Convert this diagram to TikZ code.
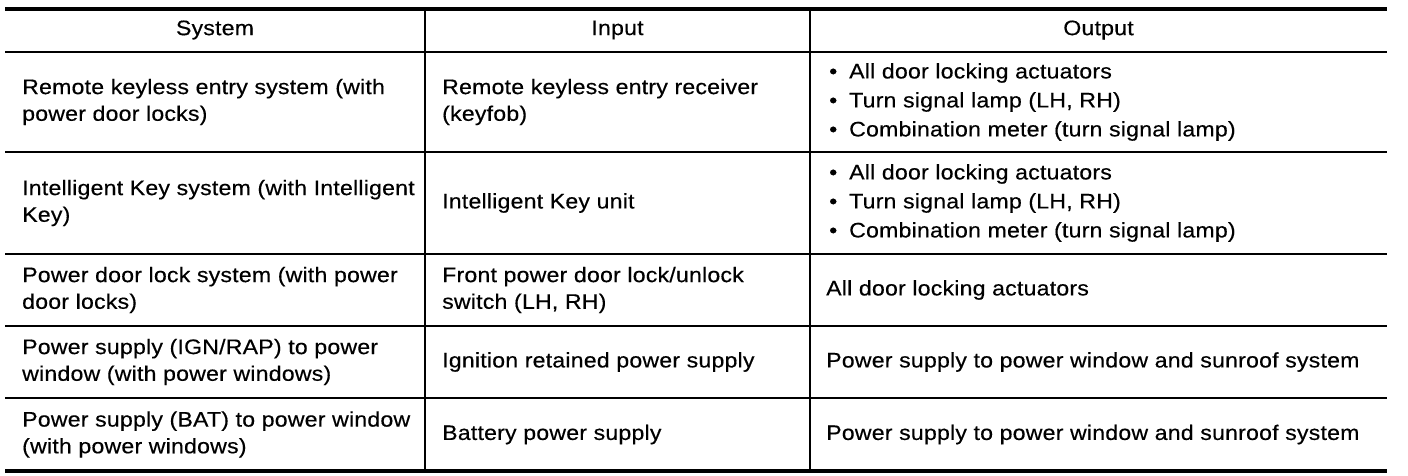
\documentclass[tikz,border=0pt]{standalone}
\usepackage{fontspec}
\newfontfamily\tabfont{Liberation Sans}[FakeStretch=1.1,LetterSpace=1,FakeBold=0.4]
\newcommand{\mybullet}{\makebox[23pt][l]{\hspace{3pt}\textbullet}}
\tikzset{
  cell/.style={anchor=west, align=left, inner sep=0pt, font=\tabfont\fontsize{21}{26.7}\selectfont},
  bcell/.style={anchor=west, align=left, inner sep=0pt, font=\tabfont\fontsize{21}{29}\selectfont},
  head/.style={anchor=center, inner sep=0pt, font=\tabfont\fontsize{21}{26.7}\selectfont},
  thickrule/.style={line width=4pt},
  midrule/.style={line width=2pt},
  rowrule/.style={line width=1.5pt},
  colrule/.style={line width=2pt}
}
\begin{document}
\begin{tikzpicture}[x=1pt,y=-1pt]
\useasboundingbox (0,0) rectangle (1408,476);
% rules
\draw[thickrule] (5,9) -- (1387,9);
\draw[midrule] (5,52) -- (1387,52);
\foreach \yy in {152,254,326,398} \draw[rowrule] (5,\yy) -- (1387,\yy);
\draw[thickrule] (5,471) -- (1387,471);
\draw[colrule] (425,9) -- (425,471);
\draw[colrule] (810,9) -- (810,471);
% header
\node[head] (hs) at (215,30) {System};
\node[head] (hi) at (617.5,30) {Input};
\node[head] (ho) at (1098.5,30) {Output};
% row 1
\node[cell] (s1) at (22,102) {Remote keyless entry system (with\\power door locks)};
\node[cell] (i1) at (442,102) {Remote keyless entry receiver\\(keyfob)};
\node[bcell] (o1) at (826,102) {\mybullet All door locking actuators\\\mybullet Turn signal lamp (LH, RH)\\\mybullet Combination meter (turn signal lamp)};
% row 2
\node[cell] (s2) at (22,203) {Intelligent Key system (with Intelligent\\Key)};
\node[cell] (i2) at (442,203) {Intelligent Key unit};
\node[bcell] (o2) at (826,203) {\mybullet All door locking actuators\\\mybullet Turn signal lamp (LH, RH)\\\mybullet Combination meter (turn signal lamp)};
% row 3
\node[cell] (s3) at (22,290) {Power door lock system (with power\\door locks)};
\node[cell] (i3) at (442,290) {Front power door lock/unlock\\switch (LH, RH)};
\node[cell] (o3) at (826,290) {All door locking actuators};
% row 4
\node[cell] (s4) at (22,362) {Power supply (IGN/RAP) to power\\window (with power windows)};
\node[cell] (i4) at (442,362) {Ignition retained power supply};
\node[cell] (o4) at (826,362) {Power supply to power window and sunroof system};
% row 5
\node[cell] (s5) at (22,434.5) {Power supply (BAT) to power window\\(with power windows)};
\node[cell] (i5) at (442,434.5) {Battery power supply};
\node[cell] (o5) at (826,434.5) {Power supply to power window and sunroof system};
\end{tikzpicture}
\end{document}
